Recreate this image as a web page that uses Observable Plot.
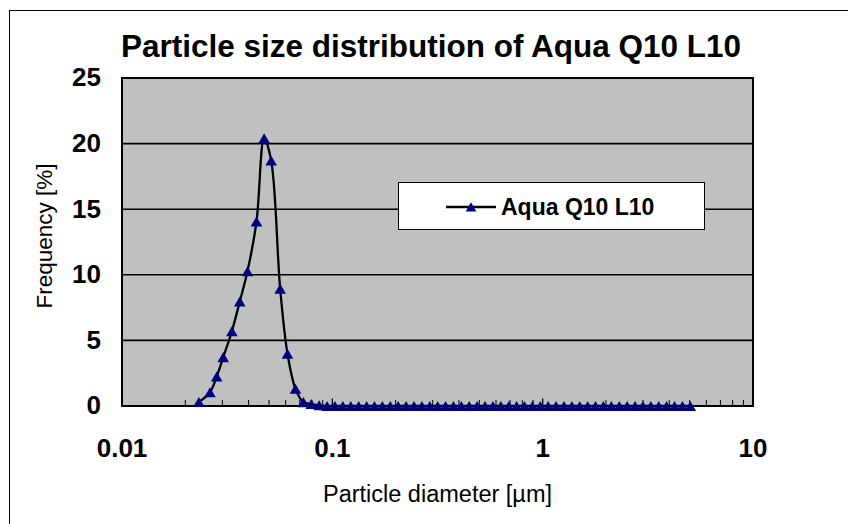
<!DOCTYPE html>
<html><head><meta charset="utf-8">
<script src="https://cdn.jsdelivr.net/npm/d3@7"></script>
<script src="https://cdn.jsdelivr.net/npm/@observablehq/plot@0.6"></script>
<style>
html,body{margin:0;padding:0;background:#fff;overflow:hidden;width:848px;height:524px;}
#wrap{position:relative;width:848px;height:524px;overflow:hidden;font-family:"Liberation Sans",Arial,sans-serif;}
#border{position:absolute;left:9px;top:10px;width:900px;height:600px;border:1px solid #000;}
#chart{position:absolute;left:0;top:0;}
#legend{position:absolute;left:398px;top:182px;}
</style></head>
<body><div id="wrap"><div id="border"></div><div id="chart"></div><div id="legend"></div></div>
<script>
const title = "Particle size distribution of Aqua Q10 L10";
const seriesName = "Aqua Q10 L10";
const xLabel = "Particle diameter [µm]";
const yLabel = "Frequency [%]";

const diameters = [0.0232, 0.0262, 0.0282, 0.0303, 0.0333, 0.0363, 0.0395, 0.0436, 0.0474, 0.0512, 0.0565, 0.0612, 0.0668,
  0.0729, 0.0794, 0.0866, 0.0944, 0.1029, 0.1122, 0.1224, 0.1334, 0.1455, 0.1586, 0.1729, 0.1886, 0.2056, 0.2242,
  0.2444, 0.2665, 0.2906, 0.3168, 0.3454, 0.3766, 0.4106, 0.4476, 0.4881, 0.5321, 0.5802, 0.6324, 0.6896, 0.7518,
  0.8197, 0.8937, 0.9743, 1.062, 1.158, 1.263, 1.377, 1.501, 1.637, 1.784, 1.945, 2.121, 2.313, 2.521, 2.749, 2.997,
  3.268, 3.563, 3.885, 4.236, 4.618, 5.035];
const frequencies = [0.3, 1.05, 2.25, 3.72, 5.7, 7.96, 10.27, 14.06, 20.4, 18.7, 8.93, 3.98, 1.31,
  0.29, 0.15, 0.05, 0, 0, 0, 0, 0, 0, 0, 0, 0, 0, 0,
  0, 0, 0, 0, 0, 0, 0, 0, 0, 0, 0, 0, 0, 0,
  0, 0, 0, 0, 0, 0, 0, 0, 0, 0, 0, 0, 0, 0, 0, 0,
  0, 0, 0, 0, 0, 0];

const xTickLabels = [0.01, 0.1, 1, 10];
const xMajorTicks = [0.1, 1];
const xMinorTicks = [0.02, 0.03, 0.04, 0.05, 0.06, 0.07, 0.08, 0.09,
  0.2, 0.3, 0.4, 0.5, 0.6, 0.7, 0.8, 0.9,
  2, 3, 4, 5, 6, 7, 8, 9];
const yTicks = [0, 5, 10, 15, 20, 25];
const yGrid = [5, 10, 15, 20];

const data = diameters.map((d, i) => ({d, f: frequencies[i]}));
const font = "'Liberation Sans', Arial, sans-serif";

const chart = Plot.plot({
  width: 848,
  height: 524,
  marginLeft: 121.5,
  marginRight: 95.5,
  marginTop: 77.5,
  marginBottom: 118.5,
  style: {fontFamily: font, background: "transparent", overflow: "visible"},
  x: {type: "log", domain: [0.01, 10]},
  y: {domain: [0, 25]},
  marks: [
    Plot.frame({fill: "#c0c0c0"}),
    Plot.ruleY(yGrid, {stroke: "#000", strokeWidth: 1.6}),
    Plot.tickX(xMinorTicks, {x: d => d, insetTop: 322.5, stroke: "#000", strokeWidth: 1}),
    Plot.tickX(xMajorTicks, {x: d => d, insetTop: 321, stroke: "#000", strokeWidth: 1.3}),
    Plot.frame({stroke: "#000", strokeWidth: 2}),
    Plot.axisX({ticks: xTickLabels, tickFormat: d => String(d), tickSize: 0, tickPadding: 33,
      fontSize: 26, fontWeight: "bold", fill: "#000", label: null}),
    Plot.axisY({ticks: yTicks, tickSize: 0, tickPadding: 21,
      fontSize: 26, fontWeight: "bold", fill: "#000", label: null}),
    Plot.line(data, {x: "d", y: "f", curve: "catmull-rom", stroke: "#000", strokeWidth: 2.3}),
    Plot.dot(data, {x: "d", y: "f", symbol: "triangle", r: 4.3, fill: "#000080", stroke: "none", dy: 1.6}),
    Plot.text([title], {frameAnchor: "top", lineAnchor: "middle", textAnchor: "middle", dx: -6.5, dy: -31,
      fontSize: 31.5, fontWeight: "bold", fill: "#000"}),
    Plot.text([xLabel], {frameAnchor: "bottom", lineAnchor: "middle", textAnchor: "middle", dy: 88.5,
      fontSize: 23.5, fill: "#000"}),
    Plot.text([yLabel], {frameAnchor: "left", lineAnchor: "middle", textAnchor: "middle", rotate: -90,
      dx: -77, dy: -6, fontSize: 22.5, fill: "#000"})
  ]
});
document.getElementById("chart").appendChild(chart);

// legend box
const lg = d3.select("#legend").append("svg").attr("width", 308).attr("height", 49)
  .style("font-family", font);
lg.append("rect").attr("x", 0.5).attr("y", 0.5).attr("width", 306).attr("height", 47)
  .attr("fill", "#fff").attr("stroke", "#000").attr("stroke-width", 1);
lg.append("line").attr("x1", 48).attr("x2", 98).attr("y1", 25).attr("y2", 25)
  .attr("stroke", "#000").attr("stroke-width", 2.3);
lg.append("path").attr("d", d3.symbol(d3.symbolTriangle, 50)()).attr("transform", "translate(73,26.5)")
  .attr("fill", "#000080");
lg.append("text").attr("x", 103).attr("y", 33).attr("font-size", 23).attr("font-weight", "bold")
  .attr("fill", "#000").text(seriesName);
</script>
</body></html>
